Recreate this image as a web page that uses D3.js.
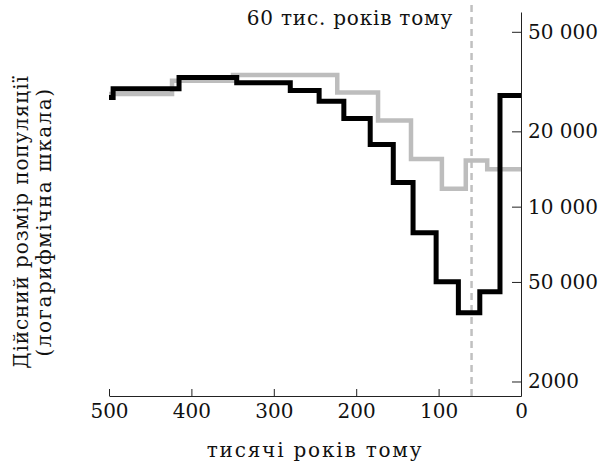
<!DOCTYPE html>
<html><head><meta charset="utf-8">
<script src="https://cdn.jsdelivr.net/npm/d3@7"></script>
<style>
body{margin:0;background:#fff;}
text{font-family:"DejaVu Serif",serif;}
</style></head>
<body>
<svg id="chart" width="598" height="462"></svg>
<script>
// Black series: step start times (thousand years ago) and effective population sizes
const blackTimes = [500, 495, 415, 345, 280, 245, 215, 183, 155, 131, 103, 76, 50, 25.5];
const blackValues = [27300, 29600, 32800, 31300, 29100, 26400, 22500, 17700, 12500, 7870, 5010, 3770, 4570, 27800];
// Grey series
const greyTimes = [500, 423.5, 349.5, 223, 173.5, 133.5, 96, 67, 41];
const greyValues = [28200, 31900, 33600, 28600, 22100, 15500, 11800, 15300, 14100];
const xTicks = [500, 400, 300, 200, 100, 0];
const yTicks = [50000, 20000, 10000, 5000, 2000];
const yTickLabels = ["50 000", "20 000", "10 000", "50 000", "2000"];
const markerTime = 60;
const markerLabel = "60 тис. років тому";
const xTitle = "тисячі років тому";
const yTitle = ["Дійсний розмір популяції", "(логарифмічна шкала)"];

const svg = d3.select("#chart");
const x = d3.scaleLinear().domain([500, 0]).range([109, 521]);
const y = d3.scaleLog().domain([1750, 60000]).range([396, 12]);

function stepData(times, values) {
  const pts = times.map((t, i) => [t, values[i]]);
  pts.push([0, values[values.length - 1]]);
  return pts;
}
const line = d3.line().x(d => x(d[0])).y(d => y(d[1])).curve(d3.curveStepAfter);

// dashed marker
svg.append("line")
  .attr("x1", x(markerTime)).attr("x2", x(markerTime))
  .attr("y1", 5).attr("y2", 396)
  .attr("stroke", "#c0c0c0").attr("stroke-width", 2.5)
  .attr("stroke-dasharray", "7,5");

svg.append("path").datum(stepData(greyTimes, greyValues))
  .attr("d", line).attr("fill", "none")
  .attr("stroke", "#bdbdbd").attr("stroke-width", 4.5)
  .attr("stroke-linejoin", "miter").attr("stroke-linecap", "butt");

svg.append("path").datum(stepData(blackTimes, blackValues))
  .attr("d", line).attr("fill", "none")
  .attr("stroke", "#000").attr("stroke-width", 5)
  .attr("stroke-linejoin", "miter").attr("stroke-linecap", "butt");

// axes
const xAxis = d3.axisBottom(x).tickValues(xTicks).tickSizeInner(-7).tickSizeOuter(0).tickPadding(8);
const gx = svg.append("g").attr("transform", "translate(0,396)").call(xAxis);
const yAxis = d3.axisRight(y).tickValues(yTicks).tickFormat((d, i) => yTickLabels[i])
  .tickSizeInner(-9).tickSizeOuter(0).tickPadding(7);
const gy = svg.append("g").attr("transform", "translate(521,0)").call(yAxis);
[gx, gy].forEach(g => {
  g.select(".domain").attr("stroke", "#222");
  g.selectAll(".tick line").attr("stroke", "#222");
  g.selectAll(".tick text").attr("fill", "#111").style("font-family", "DejaVu Serif").style("font-size", "20px");
});

svg.append("text").attr("x", 453).attr("y", 25).attr("text-anchor", "end")
  .attr("font-size", 20).attr("letter-spacing", 0.8).attr("fill", "#111").text(markerLabel);

svg.append("text").attr("x", 315).attr("y", 457).attr("text-anchor", "middle")
  .attr("font-size", 20).attr("letter-spacing", 1.8).attr("fill", "#111").text(xTitle);

const ySpacing = [0.9, 1.5];
yTitle.forEach((t, i) => {
  svg.append("text")
    .attr("transform", `translate(${28 + i * 23},222) rotate(-90)`)
    .attr("text-anchor", "middle").attr("font-size", 20)
    .attr("letter-spacing", ySpacing[i]).attr("fill", "#111").text(t);
});
</script>
</body></html>
